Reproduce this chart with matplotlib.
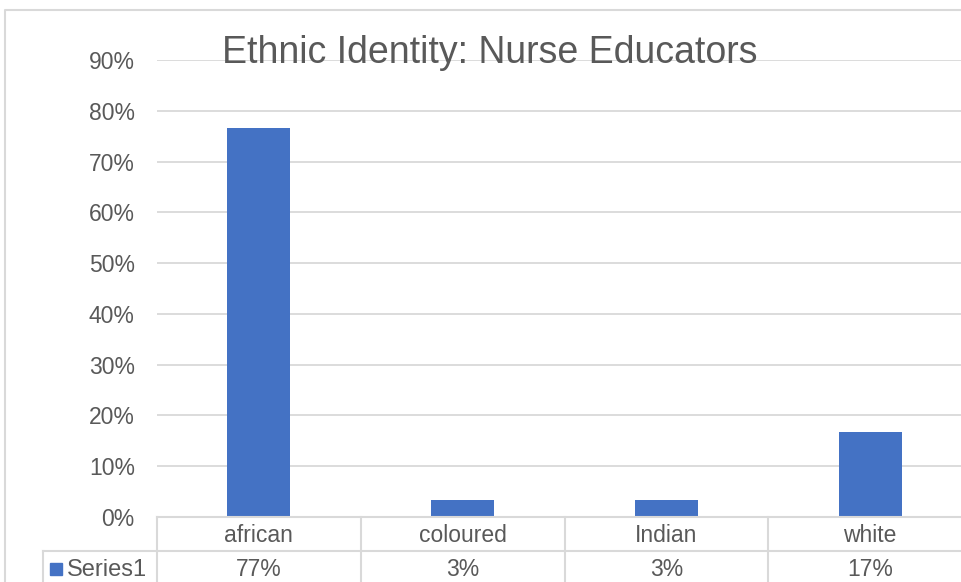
import matplotlib
matplotlib.use("Agg")
import matplotlib.pyplot as plt
from matplotlib.lines import Line2D
from matplotlib.patches import Rectangle
from matplotlib.ticker import PercentFormatter

# --- data ---
categories = ["african", "coloured", "Indian", "white"]
shares = [23 / 30, 1 / 30, 1 / 30, 5 / 30]
series_name = "Series1"
title = "Ethnic Identity: Nurse Educators"

BLUE = "#4472C4"
GRID = "#d9d9d9"
TEXT = "#595959"

plt.rcParams["font.family"] = ["Liberation Sans", "DejaVu Sans"]

W, H = 962, 582
fig = plt.figure(figsize=(W / 100, H / 100), dpi=100)


def fx(x):
    return x / W


def fy(y):
    return 1 - y / H


# plot area (runs slightly past the right edge)
left, right, top, bottom = 157, 972, 60, 517
ax = fig.add_axes([fx(left), fy(bottom), (right - left) / W, (bottom - top) / H])

xs = range(len(categories))
ax.bar(xs, shares, width=0.31, color=BLUE, zorder=3)

ax.set_xlim(-0.5, len(categories) - 0.5)
ax.set_ylim(0, 0.9)
ax.set_yticks([i / 10 for i in range(10)])
ax.yaxis.set_major_formatter(PercentFormatter(1.0, decimals=0))
ax.tick_params(axis="y", length=0, pad=16, labelsize=16.5, labelcolor=TEXT)
ax.tick_params(axis="x", length=0, labelbottom=False)
ax.grid(axis="y", color=GRID, linewidth=1.3, zorder=0)
ax.set_axisbelow(True)
for sp in ax.spines.values():
    sp.set_visible(False)

# title sits on top of the upper gridline
fig.text(fx(490), fy(53), title, ha="center", va="center",
         fontsize=27, color=TEXT, zorder=10)

# --- data table under the axis ---
row1, row2, row3 = 517, 551, 590
lines = []
lines.append(((left, W + 20), (row1, row1)))
lines.append(((43, W + 20), (row2, row2)))
lines.append(((43, 43), (row2, row3)))
for i in range(len(categories) + 1):
    x = left + i * (right - left) / len(categories)
    lines.append(((x, x), (row1, row3)))
for (x0, x1), (y0, y1) in lines:
    fig.add_artist(Line2D([fx(x0), fx(x1)], [fy(y0), fy(y1)],
                          color=GRID, linewidth=1.5))

cell_w = (right - left) / len(categories)
for i, (cat, val) in enumerate(zip(categories, shares)):
    cx = left + (i + 0.5) * cell_w
    fig.text(fx(cx), fy(535), cat, ha="center", va="center",
             fontsize=16.5, color=TEXT)
    fig.text(fx(cx), fy(570), f"{val:.0%}", ha="center", va="center",
             fontsize=16.5, color=TEXT)

# legend key + series name
fig.add_artist(Rectangle((fx(50), fy(575)), 12 / W, 12 / H, color=BLUE,
                         transform=fig.transFigure))
fig.text(fx(67), fy(570), series_name, ha="left", va="center",
         fontsize=17, color=TEXT)

# chart area border
fig.add_artist(Line2D([fx(5), fx(5), fx(W + 10)], [fy(H + 10), fy(10), fy(10)],
                      color=GRID, linewidth=1.5))

fig.savefig("out.png", dpi=100)
